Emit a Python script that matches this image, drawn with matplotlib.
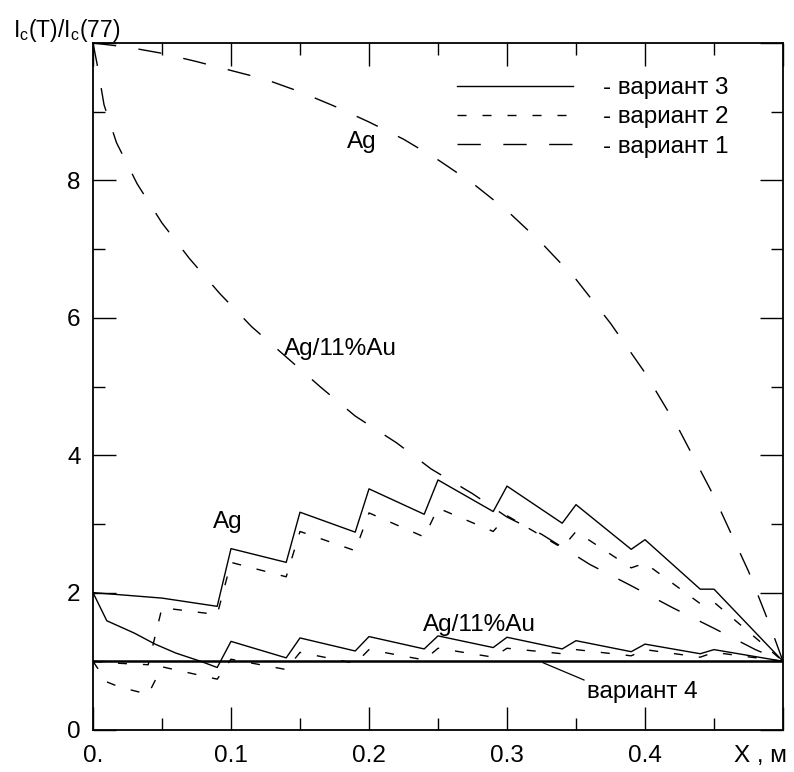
import numpy as np
import matplotlib
matplotlib.use('Agg')
import matplotlib.pyplot as plt
from matplotlib.ticker import FixedLocator

plt.rcParams['font.family'] = ['Liberation Sans', 'DejaVu Sans']
plt.rcParams['mathtext.fontset'] = 'custom'
plt.rcParams['mathtext.rm'] = 'Liberation Sans'

# variant 3 (solid)
v3_ag_x = [0, 0.05, 0.09, 0.10, 0.14, 0.15, 0.19, 0.20, 0.24, 0.25, 0.29, 0.30,
           0.34, 0.35, 0.39, 0.40, 0.44, 0.45, 0.50]
v3_ag_y = [2.0, 1.92, 1.80, 2.64, 2.44, 3.17, 2.88, 3.51, 3.14, 3.64, 3.18, 3.55,
           3.01, 3.28, 2.63, 2.77, 2.05, 2.05, 1.0]
v3_au_x = [0, 0.01, 0.02, 0.03, 0.045, 0.06, 0.078, 0.09, 0.10, 0.14, 0.15, 0.19,
           0.20, 0.24, 0.25, 0.29, 0.30, 0.34, 0.35, 0.39, 0.40, 0.44, 0.45, 0.50]
v3_au_y = [2.0, 1.59, 1.50, 1.41, 1.25, 1.12, 1.0, 0.91, 1.29, 1.05, 1.34, 1.15,
           1.36, 1.18, 1.37, 1.20, 1.35, 1.18, 1.30, 1.14, 1.25, 1.11, 1.17, 1.0]

# variant 2 (short dash)
v2_ag_x = [0, 0.02, 0.04, 0.05, 0.09, 0.10, 0.14, 0.15, 0.19, 0.20, 0.24, 0.25,
           0.29, 0.30, 0.34, 0.35, 0.39, 0.40, 0.44, 0.45, 0.50]
v2_ag_y = [1.0, 0.97, 0.95, 1.78, 1.68, 2.44, 2.23, 2.89, 2.61, 3.16, 2.81, 3.23,
           2.89, 3.12, 2.65, 2.89, 2.36, 2.43, 1.84, 1.86, 1.0]
v2_au_x = [0, 0.01, 0.02, 0.04, 0.05, 0.09, 0.10, 0.14, 0.15, 0.19, 0.20, 0.24,
           0.25, 0.29, 0.30, 0.34, 0.35, 0.39, 0.40, 0.44, 0.45, 0.50]
v2_au_y = [1.0, 0.70, 0.62, 0.52, 0.92, 0.74, 1.03, 0.88, 1.13, 0.97, 1.17, 1.02,
           1.19, 1.06, 1.19, 1.11, 1.17, 1.08, 1.17, 1.06, 1.13, 1.0]

# variant 1 (long dash)
v1_ag_x = [0, 0.025, 0.05, 0.075, 0.1, 0.125, 0.15, 0.175, 0.2, 0.225, 0.25, 0.275,
           0.3, 0.325, 0.35, 0.375, 0.4, 0.425, 0.45, 0.475, 0.49, 0.5]
v1_ag_y = [10.0, 9.94, 9.85, 9.73, 9.6, 9.47, 9.29, 9.08, 8.85, 8.6, 8.3, 7.96,
           7.56, 7.09, 6.56, 5.92, 5.2, 4.36, 3.4, 2.31, 1.55, 1.0]
v1_au_x = [0, 0.003, 0.008, 0.017, 0.032, 0.05, 0.07, 0.092, 0.115, 0.14, 0.165,
           0.19, 0.22, 0.245, 0.275, 0.3, 0.325, 0.36, 0.39, 0.42, 0.45, 0.48, 0.5]
v1_au_y = [10.0, 9.69, 9.1, 8.55, 7.95, 7.38, 6.86, 6.35, 5.87, 5.43, 4.99,
           4.57, 4.18, 3.80, 3.44, 3.10, 2.85, 2.41, 2.10, 1.78, 1.48, 1.17, 1.0]

# variant 4
v4_x = [0, 0.5]
v4_y = [1.0, 1.0]

x_ticks = [0, 0.1, 0.2, 0.3, 0.4, 0.5]
x_labels = ['0.', '0.1', '0.2', '0.3', '0.4', '']
y_ticks = [0, 2, 4, 6, 8, 10]
y_labels = ['0', '2', '4', '6', '8', '']

FS = 17.5
short_dash = (6.5, 11.5)
long_dash = (16.8, 16.2)

fig = plt.figure(figsize=(7.94, 7.72), dpi=100)
ax = fig.add_axes([93/794, 1 - 730/772, 690/794, 687/772])

ax.plot(v3_ag_x, v3_ag_y, '-', color='black', lw=1.0, label='- вариант 3')
ax.plot(v2_ag_x, v2_ag_y, color='black', lw=1.0, dashes=short_dash, label='- вариант 2')
ax.plot(v1_ag_x, v1_ag_y, color='black', lw=1.0, dashes=long_dash, label='- вариант 1')
ax.plot(v3_au_x, v3_au_y, '-', color='black', lw=1.0)
ax.plot(v2_au_x, v2_au_y, color='black', lw=1.0, dashes=short_dash)
ax.plot(v1_au_x, v1_au_y, color='black', lw=1.0, dashes=long_dash)
ax.plot(v4_x, v4_y, '-', color='black', lw=1.8)

ax.set_xlim(0, 0.5)
ax.set_ylim(0, 10)

ax.xaxis.set_major_locator(FixedLocator(x_ticks))
ax.set_xticklabels(x_labels)
ax.xaxis.set_minor_locator(FixedLocator([0.05, 0.15, 0.25, 0.35, 0.45]))
ax.yaxis.set_major_locator(FixedLocator(y_ticks))
ax.set_yticklabels(y_labels)
ax.yaxis.set_minor_locator(FixedLocator([1, 3, 5, 7, 9]))

ax.tick_params(which='both', direction='in', top=True, right=True,
               width=1.0, color='black', labelsize=FS)
ax.tick_params(which='major', length=16.5)
ax.tick_params(which='minor', length=8.3)
ax.tick_params(axis='x', pad=11)
ax.tick_params(axis='y', pad=9)
for s in ax.spines.values():
    s.set_linewidth(1.3)

# curve labels
ax.text(0.195, 8.56, 'Ag', fontsize=FS, ha='center', va='center')
ax.text(0.179, 5.54, 'Ag/11%Au', fontsize=FS, ha='center', va='center')
ax.text(0.0975, 3.03, 'Ag', fontsize=FS, ha='center', va='center')
ax.text(0.28, 1.53, 'Ag/11%Au', fontsize=FS, ha='center', va='center')
ax.annotate('вариант 4', xy=(0.326, 0.98), xytext=(0.398, 0.55),
            fontsize=FS, ha='center', va='center',
            arrowprops=dict(arrowstyle='-', color='black', lw=0.9,
                            shrinkA=0, shrinkB=0, relpos=(0.0, 1.0)))
ax.annotate('X , м', xy=(0.5, 0), xycoords='data', xytext=(3, -11),
            textcoords='offset points', fontsize=FS, ha='right', va='top')

fig.text(13/794, 1 - 37/772, r'$\mathregular{I_c(T)/I_c(77)}$', fontsize=16.5,
         ha='left', va='baseline')

ax.legend(loc='upper left', bbox_to_anchor=(457/794, 1 - 77/772),
          bbox_transform=fig.transFigure, frameon=False, fontsize=FS,
          handlelength=4.77, handletextpad=1.23, labelspacing=0.3,
          borderpad=0, borderaxespad=0)

fig.savefig('out.png', dpi=100)
